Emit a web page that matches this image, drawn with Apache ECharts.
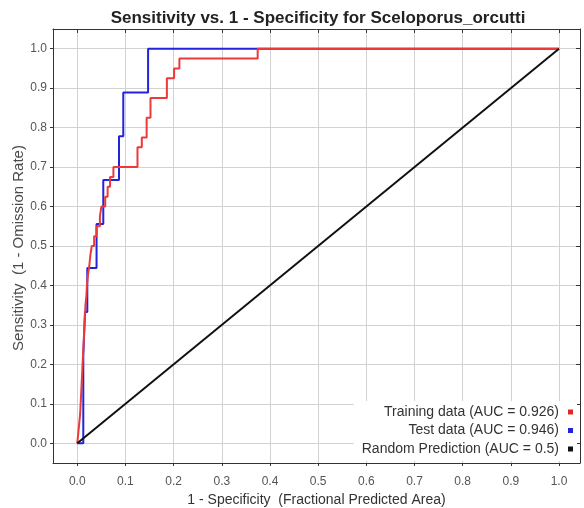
<!DOCTYPE html>
<html>
<head>
<meta charset="utf-8">
<script src="https://cdn.jsdelivr.net/npm/echarts@6/dist/echarts.min.js"></script>
<style>
  html, body { margin: 0; padding: 0; background: #fff; }
  #chart { width: 584px; height: 508px; }
</style>
</head>
<body>
<div id="chart"></div>
<script>
// Axis tick positions (both axes run 0.0 .. 1.0 in steps of 0.1)
const tickValues = [0.0, 0.1, 0.2, 0.3, 0.4, 0.5, 0.6, 0.7, 0.8, 0.9, 1.0];

// Training ROC: false-positive fraction at which sensitivity rises to each level
const trainFpr = [0.002, 0.004, 0.006, 0.007, 0.008, 0.009, 0.010, 0.011, 0.012, 0.013,
                  0.014, 0.015, 0.016, 0.017, 0.019, 0.020, 0.022, 0.025, 0.027, 0.030,
                  0.035, 0.040, 0.047, 0.050, 0.058, 0.063, 0.068, 0.075, 0.125, 0.134,
                  0.144, 0.152, 0.186, 0.201, 0.212, 0.3745];
const trainTpr = [0.025, 0.05, 0.075, 0.1, 0.125, 0.15, 0.175, 0.2, 0.225, 0.25,
                  0.275, 0.3, 0.325, 0.35, 0.375, 0.4, 0.425, 0.45, 0.475, 0.5,
                  0.525, 0.55, 0.575, 0.6, 0.625, 0.65, 0.675, 0.7, 0.75, 0.775,
                  0.825, 0.875, 0.925, 0.95, 0.975, 1.0];

// Test ROC
const testFpr = [0.0125, 0.016, 0.0208, 0.040, 0.054, 0.0866, 0.0955, 0.147];
const testTpr = [0.222, 0.333, 0.444, 0.556, 0.667, 0.778, 0.889, 1.0];

// Random prediction reference line
const randomX = [0, 1];
const randomY = [0, 1];

const seriesNames = [
  'Training data (AUC = 0.926)',
  'Test data (AUC = 0.946)',
  'Random Prediction (AUC = 0.5)'
];

// Turn ROC vertices into a horizontal-then-vertical staircase
function staircase(fpr, tpr) {
  const pts = [[0, 0]];
  let y = 0;
  for (let i = 0; i < fpr.length; i++) {
    pts.push([fpr[i], y]);
    pts.push([fpr[i], tpr[i]]);
    y = tpr[i];
  }
  pts.push([1, y]);
  return pts;
}

const X_MIN = -0.0504, X_MAX = 1.0436;
const Y_MIN = -0.05, Y_MAX = 1.05;
const FRAME = '#333333';
const GRIDLINE = '#d2d2d2';
const FONT = 'Liberation Sans, Arial, sans-serif';

function frameAxis(base) {
  return Object.assign({
    type: 'value',
    axisLine: { show: true, onZero: false, lineStyle: { color: FRAME, width: 1 } },
    axisTick: { show: true, customValues: tickValues, length: 4, inside: true, lineStyle: { color: FRAME } },
    axisLabel: { show: false },
    splitLine: { show: false }
  }, base);
}

const chart = echarts.init(document.getElementById('chart'), null, { renderer: 'canvas' });

chart.setOption({
  animation: false,
  backgroundColor: '#ffffff',
  title: {
    text: 'Sensitivity vs. 1 - Specificity for Sceloporus_orcutti',
    left: 313, top: 5, textAlign: 'center',
    textStyle: { fontFamily: FONT, fontSize: 17, fontWeight: 'bold', color: '#222' }
  },
  // vertical axis title, reading bottom to top
  graphic: [{
    type: 'text',
    x: 19, y: 248,
    rotation: Math.PI / 2,
    style: {
      text: 'Sensitivity  (1 - Omission Rate)',
      font: '15px Liberation Sans, Arial, sans-serif',
      fill: '#4a4a4a',
      textAlign: 'center',
      textVerticalAlign: 'middle'
    }
  }],
  grid: { left: 53, right: 4, top: 29, bottom: 45, containLabel: false, outerBoundsMode: 'none' },
  legend: {
    orient: 'vertical',
    right: 7, bottom: 47,
    align: 'right',
    data: seriesNames,
    icon: 'rect',
    itemWidth: 5, itemHeight: 5,
    itemGap: 4.5,
    padding: [4, 4, 5, 8],
    backgroundColor: '#ffffff',
    textStyle: { fontFamily: FONT, fontSize: 14, color: '#333', padding: [0, 4, 0, 0] }
  },
  xAxis: [
    {
      type: 'value', min: X_MIN, max: X_MAX, position: 'bottom',
      name: '1 - Specificity  (Fractional Predicted Area)',
      nameLocation: 'middle', nameGap: 29,
      nameTextStyle: { fontFamily: FONT, fontSize: 14, color: '#333' },
      axisLine: { show: true, onZero: false, lineStyle: { color: FRAME, width: 1 } },
      axisTick: { show: true, customValues: tickValues, length: 3, lineStyle: { color: FRAME } },
      axisLabel: {
        customValues: tickValues, margin: 13,
        formatter: v => v.toFixed(1),
        fontFamily: FONT, fontSize: 12, color: '#555'
      },
      splitLine: { show: true, lineStyle: { color: GRIDLINE, width: 1 } }
    },
    frameAxis({ min: X_MIN, max: X_MAX, position: 'top' })
  ],
  yAxis: [
    {
      type: 'value', min: Y_MIN, max: Y_MAX, position: 'left',
      axisLine: { show: true, onZero: false, lineStyle: { color: FRAME, width: 1 } },
      axisTick: { show: true, customValues: tickValues, length: 3, lineStyle: { color: FRAME } },
      axisLabel: {
        customValues: tickValues, margin: 6,
        formatter: v => v.toFixed(1),
        fontFamily: FONT, fontSize: 12, color: '#555'
      },
      splitLine: { show: true, lineStyle: { color: GRIDLINE, width: 1 } }
    },
    frameAxis({ min: Y_MIN, max: Y_MAX, position: 'right' })
  ],
  series: [
    {
      name: seriesNames[1], type: 'line', xAxisIndex: 0, yAxisIndex: 0,
      data: staircase(testFpr, testTpr), showSymbol: false, symbol: 'none',
      itemStyle: { color: '#2323dc' },
      lineStyle: { color: '#2323dc', width: 2 }, z: 3
    },
    {
      name: seriesNames[0], type: 'line', xAxisIndex: 0, yAxisIndex: 0,
      data: staircase(trainFpr, trainTpr), showSymbol: false, symbol: 'none',
      itemStyle: { color: '#e02828' },
      lineStyle: { color: '#ec3a3a', width: 2 }, z: 4
    },
    {
      name: seriesNames[2], type: 'line', xAxisIndex: 0, yAxisIndex: 0,
      data: randomX.map((x, i) => [x, randomY[i]]), showSymbol: false, symbol: 'none',
      itemStyle: { color: '#111111' },
      lineStyle: { color: '#111111', width: 2 }, z: 5
    }
  ]
});
</script>
</body>
</html>
